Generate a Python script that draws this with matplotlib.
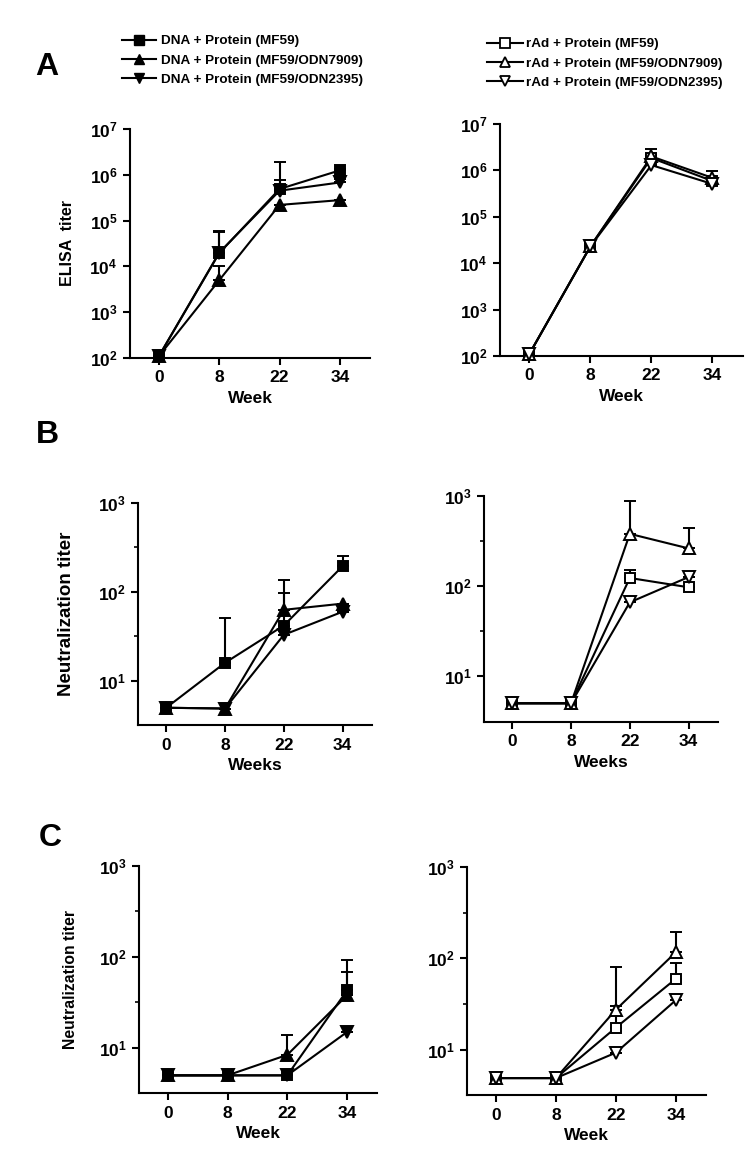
import numpy as np
import matplotlib
matplotlib.use("Agg")
import matplotlib.pyplot as plt
from matplotlib.lines import Line2D
from matplotlib.ticker import LogLocator, NullFormatter, FixedLocator

plt.rcParams['font.family'] = ['Liberation Sans', 'DejaVu Sans']
plt.rcParams['font.weight'] = 'bold'
plt.rcParams['axes.labelweight'] = 'bold'

weeks = ["0", "8", "22", "34"]

labels_dna = ["DNA + Protein (MF59)", "DNA + Protein (MF59/ODN7909)", "DNA + Protein (MF59/ODN2395)"]
labels_rad = ["rAd + Protein (MF59)", "rAd + Protein (MF59/ODN7909)", "rAd + Protein (MF59/ODN2395)"]

# A: ELISA titer, DNA prime (square, up, down)
a_dna = [[110, 1.95e4, 4.9e5, 1.25e6],
         [110, 5.0e3, 2.2e5, 2.8e5],
         [110, 2.0e4, 4.5e5, 6.8e5]]
a_dna_hi = [[110, 5.9e4, 7.6e5, 1.35e6],
            [110, 1.0e4, 2.2e5, 2.8e5],
            [110, 5.5e4, 1.9e6, 8.3e5]]
# A: rAd prime
a_rad = [[110, 2.3e4, 1.85e6, 5.9e5],
         [110, 2.3e4, 2.0e6, 6.9e5],
         [110, 2.3e4, 1.3e6, 5.1e5]]
a_rad_hi = [[110, 2.7e4, 2.2e6, 6.5e5],
            [110, 2.7e4, 2.9e6, 9.7e5],
            [110, 2.7e4, 1.5e6, 5.5e5]]

# B: neutralization titer
b_dna = [[5.0, 16, 42, 195],
         [5.0, 4.9, 63, 74],
         [5.0, 4.9, 33, 60]]
b_dna_hi = [[5.0, 51, 97, 253],
            [5.0, 4.9, 135, 74],
            [5.0, 4.9, 33, 60]]
b_rad = [[5.0, 5.0, 123, 97],
         [5.0, 5.0, 380, 262],
         [5.0, 5.0, 66, 126]]
b_rad_hi = [[5.0, 5.0, 150, 97],
            [5.0, 5.0, 880, 447],
            [5.0, 5.0, 66, 126]]

# C: neutralization titer
c_dna = [[5.0, 5.0, 5.0, 43],
         [5.0, 5.0, 8.4, 38],
         [5.0, 5.0, 5.0, 15]]
c_dna_hi = [[5.0, 5.0, 5.0, 93],
            [5.0, 5.0, 14, 69],
            [5.0, 5.0, 5.0, 15]]
c_rad = [[4.9, 4.9, 17.5, 60],
         [4.9, 4.9, 27.5, 117],
         [4.9, 4.9, 9.3, 35]]
c_rad_hi = [[4.9, 4.9, 30, 90],
            [4.9, 4.9, 80, 195],
            [4.9, 4.9, 9.3, 35]]

markers = ['s', '^', 'v']

fig = plt.figure(figsize=(7.56, 11.75), dpi=100)
W, H = 756.0, 1175.0


def make_ax(x0, x1, top, bot):
    return fig.add_axes([x0 / W, (H - bot) / H, (x1 - x0) / W, (bot - top) / H])


def draw(ax, vals, his, filled, ylim, xlabel, ylabel, minor, ylab_size=11.5, ylab_x=-0.25):
    x = np.arange(len(weeks))
    for m, v, h in zip(markers, vals, his):
        v = np.array(v, dtype=float)
        h = np.array(h, dtype=float)
        err = [np.zeros_like(v), h - v]
        ax.errorbar(x, v, yerr=err, color='black', lw=1.5, marker=m,
                    ms=8 if m != 's' else 7,
                    mfc='black' if filled else 'white', mec='black', mew=1.4,
                    capsize=4.5, capthick=1.5, elinewidth=1.5, clip_on=False, zorder=3)
    ax.set_yscale('log')
    ax.set_ylim(ylim)
    ax.set_xlim(-0.48, 3.5)
    ax.set_xticks(x)
    ax.set_xticklabels(weeks)
    ax.yaxis.set_major_locator(LogLocator(base=10, numticks=10))
    if minor:
        ax.yaxis.set_minor_locator(FixedLocator([10 ** 1.5, 10 ** 2.5]))
    else:
        ax.yaxis.set_minor_locator(FixedLocator([]))
    ax.yaxis.set_minor_formatter(NullFormatter())
    for s in ['top', 'right']:
        ax.spines[s].set_visible(False)
    for s in ['left', 'bottom']:
        ax.spines[s].set_linewidth(1.5)
    ax.tick_params(axis='both', which='major', direction='out', length=5, width=1.5,
                   labelsize=12.5, pad=4)
    ax.tick_params(axis='y', which='minor', direction='out', length=3, width=1.2)
    ax.set_xlabel(xlabel, fontsize=12.5, labelpad=4)
    if ylabel:
        ax.set_ylabel(ylabel, fontsize=ylab_size)
        ax.yaxis.set_label_coords(ylab_x, 0.5)
    for t in ax.get_xticklabels() + ax.get_yticklabels():
        t.set_fontweight('bold')


axA1 = make_ax(130, 370, 129, 358)
axA2 = make_ax(500, 743, 124, 356)
axB1 = make_ax(138, 372, 503, 725)
axB2 = make_ax(484, 718, 496, 722)
axC1 = make_ax(139, 377, 866, 1093)
axC2 = make_ax(467, 706, 867, 1095)

draw(axA1, a_dna, a_dna_hi, True, (1e2, 1e7), "Week", "ELISA  titer", False, 11.5, -0.23)
draw(axA2, a_rad, a_rad_hi, False, (1e2, 1e7), "Week", None, False)
draw(axB1, b_dna, b_dna_hi, True, (3.2, 1e3), "Weeks", "Neutralization titer", True, 13.5, -0.27)
draw(axB2, b_rad, b_rad_hi, False, (3.1, 1e3), "Weeks", None, True)
draw(axC1, c_dna, c_dna_hi, True, (3.2, 1e3), "Week", "Neutralization titer", True, 11.3, -0.256)
draw(axC2, c_rad, c_rad_hi, False, (3.2, 1e3), "Week", None, True)

# legends
h_dna = [Line2D([], [], color='black', lw=1.5, marker=m, ms=7.5 if m != 's' else 6.5,
                mfc='black', mec='black') for m in markers]
h_rad = [Line2D([], [], color='black', lw=1.5, marker=m, ms=7.5 if m != 's' else 6.5,
                mfc='white', mec='black', mew=1.3) for m in markers]
fig.legend(h_dna, labels_dna, loc='upper left', bbox_to_anchor=(122 / W, 1 - 35 / H),
           frameon=False, fontsize=9.7, handlelength=2.5, handletextpad=0.4,
           labelspacing=0.5, borderpad=0, borderaxespad=0)
fig.legend(h_rad, labels_rad, loc='upper left', bbox_to_anchor=(487 / W, 1 - 38 / H),
           frameon=False, fontsize=9.7, handlelength=2.7, handletextpad=0.2,
           labelspacing=0.5, borderpad=0, borderaxespad=0)

# panel letters
fig.text(47 / W, 1 - 67 / H, "A", fontsize=23, fontweight='bold', ha='center', va='center')
fig.text(47 / W, 1 - 435 / H, "B", fontsize=23, fontweight='bold', ha='center', va='center')
fig.text(50 / W, 1 - 838 / H, "C", fontsize=23, fontweight='bold', ha='center', va='center')

fig.savefig("out.png", dpi=100)
